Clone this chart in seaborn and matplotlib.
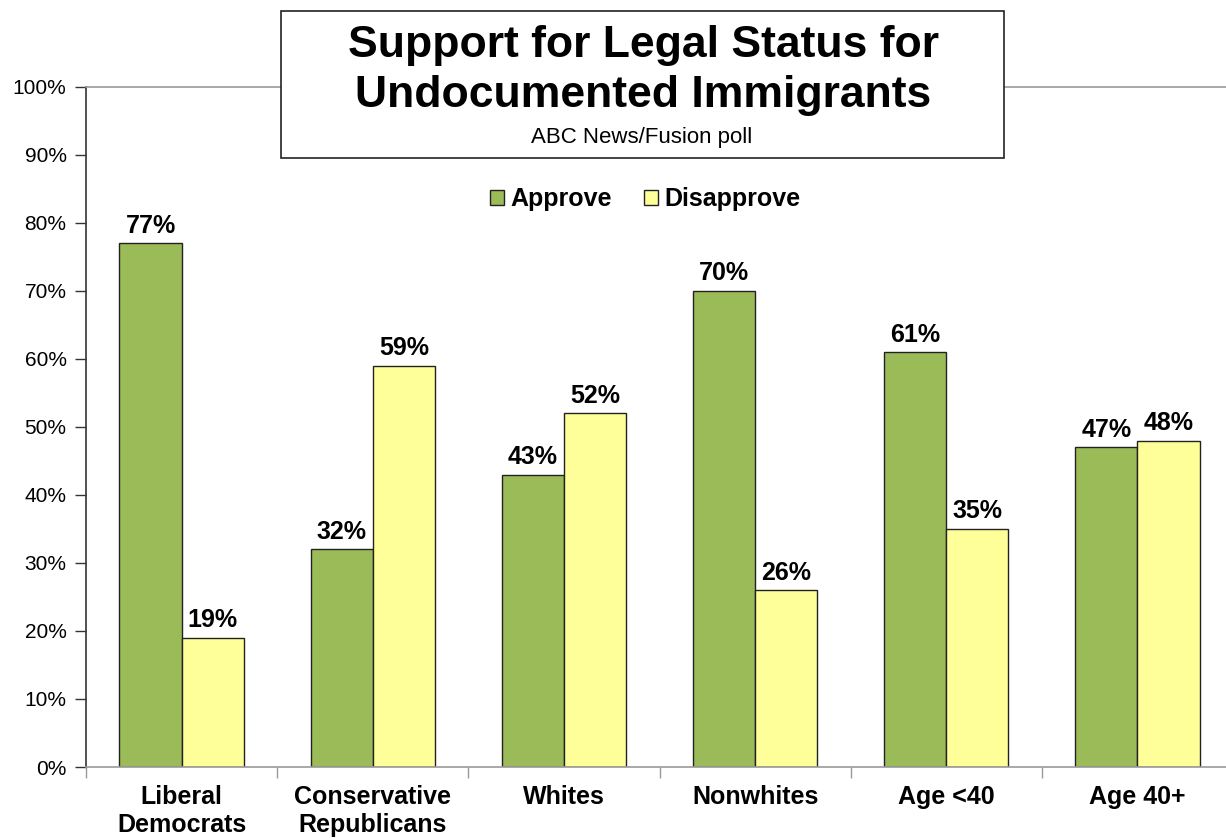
import matplotlib
matplotlib.use("Agg")
import matplotlib.pyplot as plt
import seaborn as sns
import pandas as pd
from matplotlib.patches import Rectangle, Patch

categories = ["Liberal\nDemocrats", "Conservative\nRepublicans", "Whites", "Nonwhites", "Age <40", "Age 40+"]
approve = [77, 32, 43, 70, 61, 47]
disapprove = [19, 59, 52, 26, 35, 48]
series = ["Approve", "Disapprove"]
colors = ["#9BBB59", "#FFFF99"]
yticks = list(range(0, 101, 10))

sns.set_theme(style="white")
plt.rcParams['font.family'] = ['Liberation Sans', 'DejaVu Sans']
plt.rcParams['text.color'] = 'black'
plt.rcParams['xtick.color'] = 'black'
plt.rcParams['ytick.color'] = 'black'

df = pd.DataFrame({
    "cat": categories * 2,
    "series": [series[0]] * len(categories) + [series[1]] * len(categories),
    "val": approve + disapprove,
})

fig = plt.figure(figsize=(12.26, 8.38), dpi=100)
ax = fig.add_axes([86/1226, 1-767/838, (1233-86)/1226, (767-87)/838])

sns.barplot(data=df, x="cat", y="val", hue="series", palette=colors, width=0.65,
            edgecolor="#222222", linewidth=1.0, ax=ax, legend=False, saturation=1)

ax.set_xlim(-0.5, len(categories) - 0.5)
ax.set_ylim(0, 100)
ax.set_yticks(yticks)
ax.set_yticklabels([f"{t}%" for t in yticks], fontsize=15, color="black")
ax.set_xlabel("")
ax.set_ylabel("")
ax.set_xticks(range(len(categories)))
ax.set_xticklabels(categories, fontsize=18, fontweight="bold", linespacing=1.2, color="black")
ax.set_xticks([i - 0.5 for i in range(len(categories) + 1)], minor=True)
ax.tick_params(axis="x", which="major", length=0, pad=13)
ax.tick_params(axis="x", which="minor", length=8, width=1, color="#999999", direction="out", bottom=True)
ax.tick_params(axis="y", length=8, width=1, color="#333333", direction="out", left=True, pad=6)

for s in ["top", "bottom", "right"]:
    ax.spines[s].set_color("#999999")
    ax.spines[s].set_linewidth(1.2)
ax.spines["left"].set_color("#333333")
ax.spines["left"].set_linewidth(1.2)
ax.grid(False)

for cont in ax.containers:
    ax.bar_label(cont, labels=[f"{int(v)}%" for v in cont.datavalues], padding=4,
                 fontsize=18, fontweight="bold", color="black")

# title box
fig.patches.append(Rectangle((281/1226, 1-158/838), (1004-281)/1226, 147/838,
                             transform=fig.transFigure, facecolor="white",
                             edgecolor="#222222", linewidth=1.2, zorder=5))
fig.text(643/1226, 1-45/838, "Support for Legal Status for", ha="center", va="center",
         fontsize=32, fontweight="bold", zorder=6)
fig.text(643/1226, 1-96/838, "Undocumented Immigrants", ha="center", va="center",
         fontsize=32, fontweight="bold", zorder=6)
fig.text(642/1226, 1-137/838, "ABC News/Fusion poll", ha="center", va="center",
         fontsize=16, zorder=6)

handles = [Patch(facecolor=c, edgecolor="#222222", linewidth=1.0, label=s) for c, s in zip(colors, series)]
fig.legend(handles=handles, loc="center", bbox_to_anchor=(645/1226, 1-199/838), ncol=2,
           frameon=False, prop={"size": 18, "weight": "bold"}, handlelength=0.55,
           handleheight=0.55, handletextpad=0.25, columnspacing=1.3)

fig.savefig("out.png", dpi=100)
